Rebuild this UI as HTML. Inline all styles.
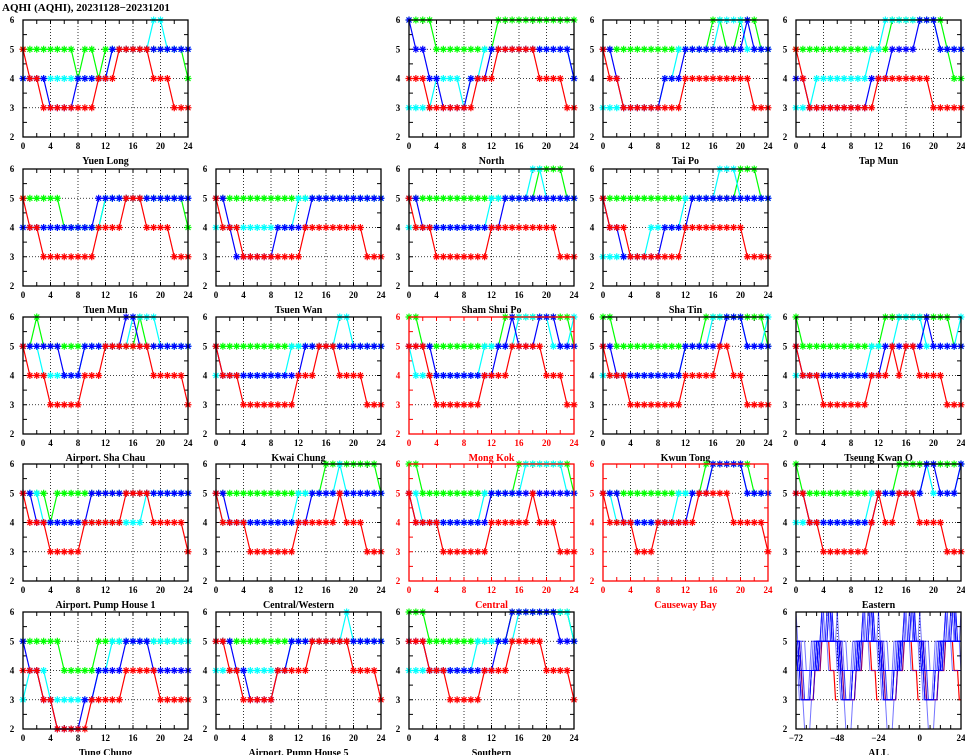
<!DOCTYPE html>
<html><head><meta charset="utf-8"><style>
html,body{margin:0;padding:0;background:#fff;}
svg{display:block;font-family:"Liberation Serif",serif;font-weight:bold;}
</style></head><body>
<svg id="chart" width="965" height="755" viewBox="0 0 965 755" xmlns="http://www.w3.org/2000/svg">
<text x="2" y="11" font-size="11">AQHI (AQHI), 20231128−20231201</text>
</svg>
<script>
const stationNames = ["Yuen Long","North","Tai Po","Tap Mun","Tuen Mun","Tsuen Wan","Sham Shui Po","Sha Tin","Airport. Sha Chau","Kwai Chung","Mong Kok","Kwun Tong","Tseung Kwan O","Airport. Pump House 1","Central/Western","Central","Causeway Bay","Eastern","Tung Chung","Airport. Pump House 5","Southern"];
const stationCells = [[0,0],[0,2],[0,3],[0,4],[1,0],[1,1],[1,2],[1,3],[2,0],[2,1],[2,2],[2,3],[2,4],[3,0],[3,1],[3,2],[3,3],[3,4],[4,0],[4,1],[4,2]];
const redStations = ["Mong Kok","Central","Causeway Bay"];
const hours = [0,1,2,3,4,5,6,7,8,9,10,11,12,13,14,15,16,17,18,19,20,21,22,23,24];
const xTicks = [0,4,8,12,16,20,24];
const yTicks = [2,3,4,5,6];
const allXTicks = [-72,-48,-24,0,24];
const seriesColors = ["#00ff00","#00ffff","#0000ff","#ff0000"];
const seriesNames = ["green","cyan","blue","red"];
const greenData = [
[5,5,5,5,5,5,5,5,4,5,5,4,5,5,5,5,5,5,5,5,5,5,5,5,4],
[6,6,6,6,5,5,5,5,5,5,5,5,5,6,6,6,6,6,6,6,6,6,6,6,6],
[5,5,5,5,5,5,5,5,5,5,5,5,5,5,5,5,6,6,5,5,6,6,6,5,5],
[5,5,5,5,5,5,5,5,5,5,5,5,5,5,6,6,6,6,6,6,6,6,5,4,4],
[5,5,5,5,5,5,4,4,4,4,4,4,5,5,5,5,5,5,5,5,5,5,5,5,4],
[5,5,5,5,5,5,5,5,5,5,5,5,5,5,5,5,5,5,5,5,5,5,5,5,5],
[5,5,5,5,5,5,5,5,5,5,5,5,5,5,5,5,5,5,5,6,6,6,6,5,5],
[5,5,5,5,5,5,5,5,5,5,5,5,5,5,5,5,5,5,5,5,6,6,6,5,5],
[5,5,6,5,5,5,5,5,5,5,5,5,5,5,5,5,5,6,5,5,5,5,5,5,5],
[5,5,5,5,5,5,5,5,5,5,5,5,5,5,5,5,5,5,5,5,5,5,5,5,5],
[6,6,5,5,5,5,5,5,5,5,5,5,5,5,6,6,6,6,6,6,6,6,6,6,5],
[6,6,5,5,5,5,5,5,5,5,5,5,5,5,5,6,6,6,6,6,6,6,6,6,5],
[6,5,5,5,5,5,5,5,5,5,5,5,5,6,6,6,6,6,6,6,6,6,6,5,5],
[5,5,5,5,4,5,5,5,5,5,5,5,5,5,5,5,5,5,5,5,5,5,5,5,5],
[5,5,5,5,5,5,5,5,5,5,5,5,5,5,5,5,6,6,6,6,6,6,6,6,5],
[6,6,5,5,5,5,5,5,5,5,5,5,5,5,5,5,6,6,6,6,6,6,6,6,5],
[5,5,5,5,5,5,5,5,5,5,5,5,5,5,5,6,6,6,6,6,6,6,5,5,5],
[6,5,5,5,5,5,5,5,5,5,5,5,5,5,5,6,6,6,6,6,6,6,6,6,6],
[5,5,5,5,5,5,4,4,4,4,4,5,5,5,5,5,5,5,5,5,5,5,5,5,5],
[5,5,5,5,5,5,5,5,5,5,5,5,5,5,5,5,5,5,5,5,5,5,5,5,5],
[6,6,6,5,5,5,5,5,5,5,5,5,5,5,5,6,6,6,6,6,6,6,6,6,5]];
const cyanData = [
[4,4,4,4,4,4,4,4,4,4,4,4,4,5,5,5,5,5,5,6,6,5,5,5,5],
[3,3,3,3,4,4,4,4,3,4,4,5,5,5,5,5,5,5,5,5,5,5,5,5,4],
[3,3,3,3,3,3,3,3,3,4,4,5,5,5,5,5,5,6,6,6,6,5,5,5,5],
[3,3,3,4,4,4,4,4,4,4,4,5,5,6,6,6,6,6,6,6,6,5,5,5,5],
[4,4,4,4,4,4,4,4,4,4,4,4,5,5,5,5,5,5,5,5,5,5,5,5,5],
[4,4,4,4,4,4,4,4,4,4,4,4,5,5,5,5,5,5,5,5,5,5,5,5,5],
[4,4,4,4,4,4,4,4,4,4,4,4,5,5,5,5,5,5,6,6,5,5,5,5,5],
[3,3,3,3,3,3,3,4,4,4,4,4,5,5,5,5,5,6,6,6,5,5,5,5,5],
[5,5,5,4,4,4,4,4,4,5,5,5,5,5,5,5,6,6,6,6,5,5,5,5,5],
[4,4,4,4,4,4,4,4,4,4,4,5,5,5,5,5,5,5,6,6,5,5,5,5,5],
[5,4,4,4,4,4,4,4,4,4,4,5,5,5,5,5,6,6,6,6,6,5,5,5,6],
[4,4,4,4,4,4,4,4,4,4,4,4,5,5,5,5,6,6,6,6,6,5,5,5,6],
[4,4,4,4,4,4,4,4,4,4,4,5,5,5,5,6,6,6,6,5,5,5,5,5,6],
[5,5,5,4,4,4,4,4,4,4,4,4,4,4,4,4,4,4,5,5,5,5,5,5,5],
[5,4,4,4,4,4,4,4,4,4,4,4,5,5,5,5,5,5,6,5,5,5,5,5,5],
[5,5,4,4,4,4,4,4,4,4,4,5,5,5,5,5,5,6,6,6,6,6,6,5,5],
[5,5,4,4,4,4,4,4,4,4,4,5,5,5,5,5,6,6,6,6,6,5,5,5,5],
[4,4,4,4,4,4,4,4,4,4,4,5,5,5,5,5,5,5,5,6,5,5,5,5,6],
[3,4,4,4,3,3,3,3,3,3,3,4,4,5,5,5,5,5,5,5,5,5,5,5,5],
[4,4,4,4,4,4,4,4,4,4,4,5,5,5,5,5,5,5,5,6,5,5,5,5,5],
[4,4,4,4,4,4,4,4,4,4,5,5,5,5,5,5,6,6,6,6,6,6,6,6,5]];
const blueData = [
[4,4,4,4,3,3,3,3,4,4,4,4,4,5,5,5,5,5,5,5,5,5,5,5,5],
[6,5,5,4,4,3,3,3,3,4,4,4,5,5,5,5,5,5,5,5,5,5,5,5,4],
[5,5,4,3,3,3,3,3,3,4,4,4,5,5,5,5,5,5,5,5,5,6,5,5,5],
[4,4,3,3,3,3,3,3,3,3,3,4,4,4,5,5,5,5,6,6,6,5,5,5,5],
[4,4,4,4,4,4,4,4,4,4,4,5,5,5,5,5,5,5,5,5,5,5,5,5,5],
[5,5,4,3,3,3,3,3,3,4,4,4,4,4,5,5,5,5,5,5,5,5,5,5,5],
[5,5,4,4,4,4,4,4,4,4,4,4,4,4,5,5,5,5,5,5,5,5,5,5,5],
[5,4,4,3,3,3,3,3,3,4,4,4,4,5,5,5,5,5,5,5,5,5,5,5,5],
[5,5,5,5,5,5,4,4,4,5,5,5,5,5,5,6,6,5,5,5,5,5,5,5,5],
[5,4,4,4,4,4,4,4,4,4,4,4,4,5,5,5,5,5,5,5,5,5,5,5,5],
[5,5,5,5,4,4,4,4,4,4,4,4,4,5,5,6,5,5,5,6,6,6,5,5,5],
[5,5,4,4,4,4,4,4,4,4,4,4,5,5,5,5,5,5,6,6,6,5,5,5,5],
[5,4,4,4,4,4,4,4,4,4,4,4,4,5,5,5,5,5,5,6,5,5,5,5,5],
[5,5,4,4,4,4,4,4,4,4,5,5,5,5,5,5,5,5,5,5,5,5,5,5,5],
[5,5,4,4,4,4,4,4,4,4,4,4,4,4,5,5,5,5,5,5,5,5,5,5,5],
[5,4,4,4,4,4,4,4,4,4,4,4,5,5,5,5,5,5,5,5,5,5,5,5,5],
[5,5,5,4,4,4,4,4,4,4,4,4,4,5,5,5,6,6,6,6,6,5,5,5,5],
[5,5,4,4,4,4,4,4,4,4,4,4,5,5,5,5,5,5,5,6,6,5,5,5,6],
[5,4,4,3,3,2,2,2,2,3,3,4,4,4,4,5,5,5,5,4,4,4,4,4,4],
[5,5,5,4,4,3,3,3,3,4,4,5,5,5,5,5,5,5,5,5,5,5,5,5,5],
[5,5,5,4,4,4,4,4,4,4,4,4,4,5,5,6,6,6,6,6,6,6,5,5,5]];
const redData = [
[5,4,4,3,3,3,3,3,3,3,3,4,4,4,5,5,5,5,5,4,4,4,3,3,3],
[4,4,4,3,3,3,3,3,3,3,4,4,4,5,5,5,5,5,5,4,4,4,4,3,3],
[5,4,4,3,3,3,3,3,3,3,3,3,4,4,4,4,4,4,4,4,4,4,3,3,3],
[5,4,3,3,3,3,3,3,3,3,3,3,4,4,4,4,4,4,4,4,3,3,3,3,3],
[5,4,4,3,3,3,3,3,3,3,3,4,4,4,4,5,5,5,4,4,4,4,3,3,3],
[5,4,4,4,3,3,3,3,3,3,3,3,3,4,4,4,4,4,4,4,4,4,3,3,3],
[5,4,4,4,3,3,3,3,3,3,3,3,4,4,4,4,4,4,4,4,4,4,3,3,3],
[5,4,4,4,3,3,3,3,3,3,3,3,4,4,4,4,4,4,4,4,4,3,3,3,3],
[5,4,4,4,3,3,3,3,3,4,4,4,5,5,5,5,5,5,5,4,4,4,4,4,3],
[5,4,4,4,3,3,3,3,3,3,3,3,4,4,4,5,5,5,4,4,4,4,3,3,3],
[5,5,5,4,3,3,3,3,3,3,3,4,4,4,4,5,5,5,5,5,4,4,4,3,3],
[5,4,4,4,3,3,3,3,3,3,3,3,4,4,4,4,4,5,5,4,4,3,3,3,3],
[5,4,4,4,3,3,3,3,3,3,3,4,4,4,5,4,5,5,4,4,4,4,3,3,3],
[5,4,4,4,3,3,3,3,3,4,4,4,4,4,4,5,5,5,5,4,4,4,4,4,3],
[5,4,4,4,4,3,3,3,3,3,3,3,4,4,4,4,4,4,5,4,4,4,3,3,3],
[5,4,4,4,4,3,3,3,3,3,3,3,4,4,4,4,4,4,5,4,4,4,3,3,3],
[5,4,4,4,4,3,3,3,4,4,4,4,4,4,5,5,5,5,5,4,4,4,4,4,3],
[5,5,4,4,3,3,3,3,3,3,3,4,5,4,4,5,5,5,4,4,4,4,3,3,3],
[4,4,4,3,3,2,2,2,2,2,3,3,3,3,3,4,4,4,4,4,3,3,3,3,3],
[5,5,4,4,3,3,3,3,3,4,4,4,4,4,5,5,5,5,5,5,4,4,4,4,3],
[5,5,5,4,4,4,3,3,3,3,3,4,4,4,4,5,5,5,5,5,4,4,4,4,3]];
const allDayOffsets = [-72,-48,-24,0];
const allRedStation = 10;

const NS = "http://www.w3.org/2000/svg";
const svg = document.getElementById("chart");
const colX = [23,216,409,603,796];
const rowY = [20,169,317,464,612];
const PW = 165, PH = 117;
function mk(tag, attrs, parent){ const e=document.createElementNS(NS,tag); for(const k in attrs) e.setAttribute(k,attrs[k]); (parent||svg).appendChild(e); return e; }

function drawFrame(g, x0, y0, xmin, xmax, xt, minorStep, color, title){
  const sx = v => x0 + (v - xmin) / (xmax - xmin) * PW;
  const sy = v => y0 + PH - (v - 2) / 4 * PH;
  for (const t of xt) if (t>xmin && t<xmax) {
    const l = mk("line",{x1:sx(t),x2:sx(t),y1:y0,y2:y0+PH,stroke:"#000","stroke-width":0.8,"stroke-dasharray":"1,2"},g);
    
    
  }
  for (const t of yTicks) if (t>2 && t<6) {
    const l = mk("line",{x1:x0,x2:x0+PW,y1:sy(t),y2:sy(t),stroke:"#000","stroke-width":0.8,"stroke-dasharray":"1,2"},g);
    
    
  }
  for (let v = xmin; v <= xmax; v += minorStep) {
    mk("line",{x1:sx(v),x2:sx(v),y1:y0,y2:y0+4,stroke:color,"stroke-width":1},g);
    mk("line",{x1:sx(v),x2:sx(v),y1:y0+PH,y2:y0+PH-4,stroke:color,"stroke-width":1},g);
  }
  for (let v = 2; v <= 6; v += 0.5) {
    mk("line",{x1:x0,x2:x0+4,y1:sy(v),y2:sy(v),stroke:color,"stroke-width":1},g);
    mk("line",{x1:x0+PW,x2:x0+PW-4,y1:sy(v),y2:sy(v),stroke:color,"stroke-width":1},g);
  }
  for (const t of xt) {
    const tx = mk("text",{x:sx(t),y:y0+PH+12,"font-size":9,"text-anchor":"middle",fill:color},g);
    tx.textContent = t<0 ? "−"+(-t) : t;
    
    
  }
  for (const t of yTicks) {
    const tx = mk("text",{x:x0-11,y:sy(t)+3,"font-size":9,"text-anchor":"middle",fill:color},g);
    tx.textContent = t;
    
    
  }
  const tt = mk("text",{x:x0+PW/2,y:y0+PH+27,"font-size":10,"text-anchor":"middle",fill:color},g);
  tt.textContent = title;
  
  
  return {sx, sy};
}

stationNames.forEach((name, i) => {
  const [r, c] = stationCells[i];
  const x0 = colX[c], y0 = rowY[r];
  const color = redStations.includes(name) ? "#ff0000" : "#000";
  const g = mk("g",{});
  
  
  const {sx, sy} = drawFrame(g, x0, y0, 0, 24, xTicks, 2, color, name);
  const sets = [greenData[i], cyanData[i], blueData[i], redData[i]];
  sets.forEach((vals, s) => {
    const sg = mk("g",{},g);
    
    
    const pts = vals.map((v, k) => sx(hours[k]) + "," + sy(v)).join(" ");
    mk("polyline",{points:pts,fill:"none",stroke:seriesColors[s],"stroke-width":1.2},sg);
    let d = "";
    vals.forEach((v, k) => {
      const x = sx(hours[k]), y = sy(v), m = 3.5, n = 2.5;
      d += `M${x-m},${y}h${2*m}M${x},${y-m}v${2*m}M${x-n},${y-n}l${2*n},${2*n}M${x-n},${y+n}l${2*n},${-2*n}`;
    });
    const mp = mk("path",{d:d,stroke:seriesColors[s],"stroke-width":1.2,fill:"none"},sg);
    
    
  });
  mk("rect",{x:x0,y:y0,width:PW,height:PH,fill:"none",stroke:color,"stroke-width":1.3},g);
});

(function(){
  const x0 = colX[4], y0 = rowY[4];
  const g = mk("g",{});
  
  
  const {sx, sy} = drawFrame(g, x0, y0, -72, 24, allXTicks, 6, "#000", "ALL");
  const clip = mk("clipPath",{id:"allclip"},g);
  mk("rect",{x:x0,y:y0,width:PW,height:PH},clip);
  const lg = mk("g",{"clip-path":"url(#allclip)"},g);
  allDayOffsets.forEach(off => {
    const rv = redData[allRedStation];
    const rp = mk("polyline",{points:rv.map((v,k) => sx(hours[k]+off) + "," + sy(v)).join(" "),fill:"none",stroke:"#ff0000","stroke-width":1.2},lg);
    
    
    blueData.forEach(vals => {
      const pts = vals.map((v,k) => sx(hours[k]+off) + "," + sy(v)).join(" ");
      const pl = mk("polyline",{points:pts,fill:"none",stroke:"#0000ff","stroke-width":1,"stroke-opacity":0.55},lg);
      
      
    });
  });
  mk("rect",{x:x0,y:y0,width:PW,height:PH,fill:"none",stroke:"#000","stroke-width":1.3},g);
})();
</script>
</body></html>
